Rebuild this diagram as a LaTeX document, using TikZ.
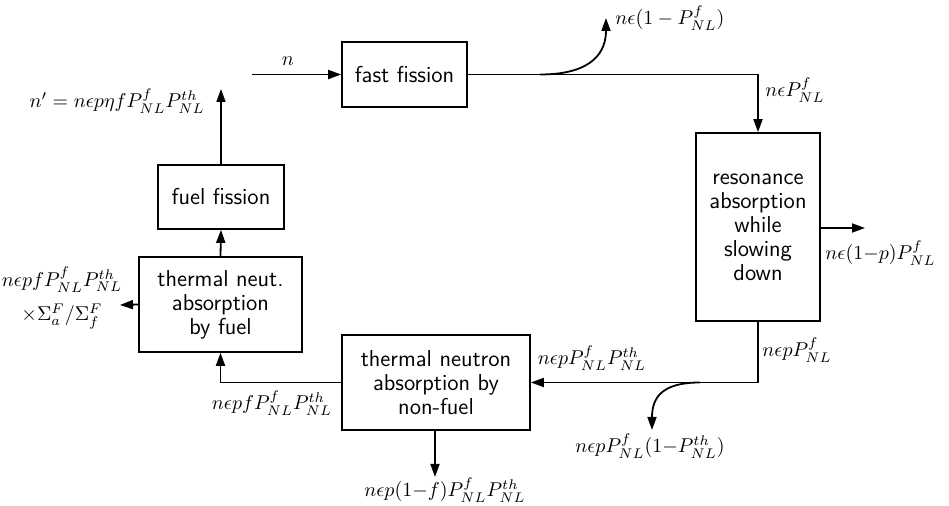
\documentclass[tikz,border=0pt]{standalone}
\usepackage{amsmath}
\usetikzlibrary{arrows.meta}
\begin{document}
\begin{tikzpicture}[x=0.5pt,y=-0.5pt,
  blk/.style={draw,line width=0.85pt,align=center,font=\sffamily\fontsize{11.5}{12}\selectfont,inner sep=0pt},
  flow/.style={line width=0.9pt,-{Triangle[length=6.5pt,width=4.5pt]}},
  lbl/.style={inner sep=0pt,font=\fontsize{10}{12}\selectfont,align=center}]
\useasboundingbox (0,0) rectangle (949,506);
% boxes
\node[blk,minimum width=62.5pt,minimum height=32.5pt] (ff) at (404.5,74.5) {fast fission};
\node[blk,minimum width=63pt,minimum height=32pt] (fuelf) at (221,197) {fuel fission};
\node[blk,minimum width=81.5pt,minimum height=47.5pt] (tnf) at (220.5,304.5) {thermal neut.\\absorption\\by fuel};
\node[blk,minimum width=94pt,minimum height=47.5pt] (tnn) at (436,382.5) {thermal neutron\\absorption by\\non-fuel};
\node[blk,minimum width=62pt,minimum height=94pt] (res) at (758,227) {resonance\\absorption\\while\\slowing\\down};
% free ends
\coordinate (in) at (252,74.5);
\coordinate (nout) at (221,89);
\coordinate (b1) at (540,74.5);
\coordinate (e1) at (606,18);
\coordinate (e2) at (865,228);
\coordinate (e3) at (120,305);
\coordinate (e4) at (435,477);
\coordinate (b2) at (700,382.5);
\coordinate (e5) at (652,430);
% connectors
\draw[flow] (in) -- (ff.west);
\draw[flow] (ff.east) -| (res.north);
\draw[flow] (b1) .. controls (595,74.5) and (606,50) .. (e1);
\draw[flow] (res.east |- e2) -- (e2);
\draw[flow] (res.south) |- (tnn.east);
\draw[flow] (b2) .. controls (665,382.5) and (652,395) .. (e5);
\draw[flow] (tnn.south -| e4) -- (e4);
\draw[flow] (tnn.west) -| (tnf.south);
\draw[flow] (tnf.west) -- (e3);
\draw[flow] (tnf.north) -- (fuelf.south);
\draw[flow] (fuelf.north) -- (nout);
% labels
\node[lbl] (ln) at (288,61) {$n$};
\node[lbl,anchor=east] (lnp) at (205,101) {$n' = n\epsilon p\eta f P^{f}_{NL}P^{th}_{NL}$};
\node[lbl,anchor=west] (l1) at (615,18) {$n\epsilon(1-P^{f}_{NL})$};
\node[lbl,anchor=west] (l2) at (765,90) {$n\epsilon P^{f}_{NL}$};
\node[lbl,anchor=west] (l3) at (825,253) {$n\epsilon(1{-}p)P^{f}_{NL}$};
\node[lbl,anchor=west] (l4) at (762,350) {$n\epsilon p P^{f}_{NL}$};
\node[lbl] (l5) at (592,358) {$n\epsilon p P^{f}_{NL}P^{th}_{NL}$};
\node[lbl] (l6) at (650,446) {$n\epsilon p P^{f}_{NL}(1{-}P^{th}_{NL})$};
\node[lbl] (l7) at (445,490) {$n\epsilon p(1{-}f)P^{f}_{NL}P^{th}_{NL}$};
\node[lbl] (l8) at (272,403) {$n\epsilon p f P^{f}_{NL}P^{th}_{NL}$};
\node[lbl] (l9) at (62,298) {$n\epsilon p f P^{f}_{NL}P^{th}_{NL}$\\[5pt]$\times\Sigma^{F}_{a}/\Sigma^{F}_{f}$};
\end{tikzpicture}
\end{document}
